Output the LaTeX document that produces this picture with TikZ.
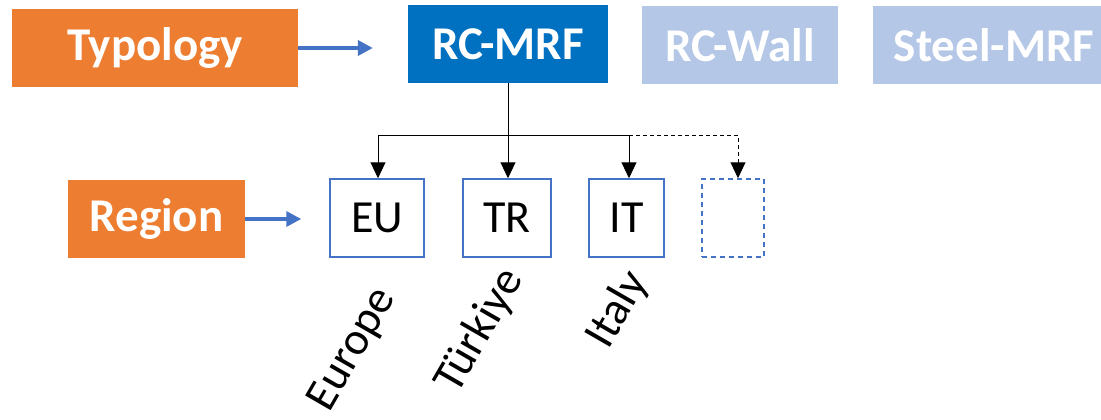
\documentclass[tikz,border=0pt]{standalone}
\usepackage{fontspec}
\setmainfont{Carlito}
\usetikzlibrary{arrows.meta}
\definecolor{orangebox}{HTML}{ED7D31}
\definecolor{darkblue}{HTML}{0070C0}
\definecolor{paleblue}{HTML}{B4C7E7}
\definecolor{lineblue}{HTML}{4472C4}
\tikzset{
  label/.style={rectangle, inner sep=0pt, font=\fontsize{47}{52}\selectfont\bfseries, text=white},
  catbox/.style={label, fill=orangebox},
  typebox/.style={label, fill=darkblue},
  otherbox/.style={label, fill=paleblue},
  regbox/.style={rectangle, inner sep=0pt, draw=lineblue, line width=1.5pt, fill=white,
    font=\fontsize{46}{50}\selectfont},
  rotlabel/.style={rotate=60, inner sep=0pt, font=\fontsize{46}{50}\selectfont},
  bluearrow/.style={draw=lineblue, line width=3.5pt, -{Triangle[length=15pt,width=15pt]}},
  treeline/.style={draw=black, line width=1pt},
  treearrow/.style={treeline, -{Triangle[length=16pt,width=15pt]}},
}
\begin{document}
\begin{tikzpicture}[x=1pt, y=-1pt]
\useasboundingbox (0,0) rectangle (1101,420);

% row of structural typologies
\node[catbox, minimum width=286pt, minimum height=78pt] (typ) at (155,48) {Typology};
\node[typebox, minimum width=200pt, minimum height=78pt] (rcmrf) at (508,44) {RC-MRF};
\node[otherbox, minimum width=196pt, minimum height=78pt] (rcwall) at (740,45) {RC-Wall};
\node[otherbox, minimum width=242pt, minimum height=78pt] (steel) at (994,45) {Steel-MRF};

% row of regions
\node[catbox, minimum width=177pt, minimum height=78pt] (reg) at (156.5,219) {Region};
\node[regbox, minimum width=94pt, minimum height=78pt] (eu) at (377,218) {EU};
\node[regbox, minimum width=88pt, minimum height=78pt] (tr) at (507,218) {TR};
\node[regbox, minimum width=75pt, minimum height=78pt] (it) at (626.5,218) {IT};
\node[regbox, dash pattern=on 5pt off 4pt, minimum width=62pt, minimum height=78pt] (more) at (733,218) {};

% region names
\node[rotlabel] (europe) at (353,350) {Europe};
\node[rotlabel] (turkiye) at (480,331) {Türkiye};
\node[rotlabel] (italy) at (618,310) {Italy};

% category arrows
\draw[bluearrow, shorten >=35pt] (typ.east) -- (typ.east -| rcmrf.west);
\draw[bluearrow, shorten >=28pt] (reg.east) -- (reg.east -| eu.west);

% tree from RC-MRF to regions
\coordinate (bus) at (508,135);
\draw[treearrow] (rcmrf.south) -- (rcmrf.south |- tr.north);
\draw[treeline] ([xshift=1pt]eu.north |- bus) -- ([xshift=2.5pt]it.north |- bus);
\draw[treearrow] ([xshift=1pt]eu.north |- bus) -- ([xshift=1pt]eu.north);
\draw[treearrow] ([xshift=2.5pt]it.north |- bus) -- ([xshift=2.5pt]it.north);
\draw[treearrow, dash pattern=on 4pt off 3pt] ([xshift=2.5pt]it.north |- bus) -| ([xshift=5pt]more.north);
\end{tikzpicture}
\end{document}
